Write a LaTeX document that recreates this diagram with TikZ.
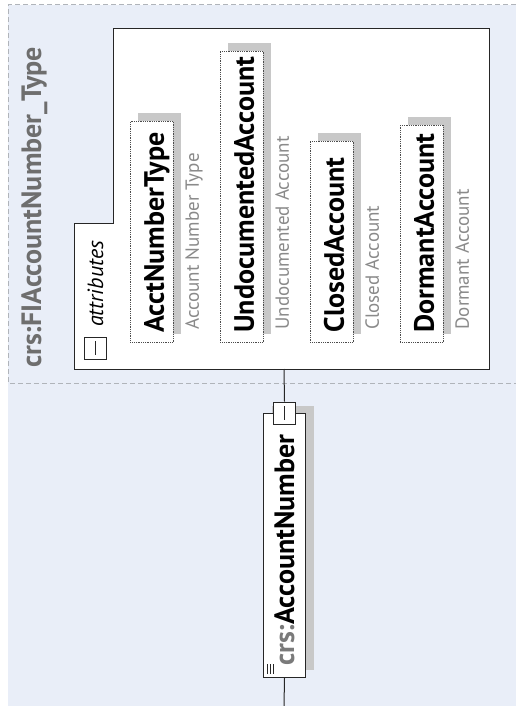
\documentclass[tikz,border=0pt]{standalone}
\usepackage{fontspec}
\setmainfont{PT Sans}
\usetikzlibrary{shadows}
\definecolor{bgblue}{HTML}{E9EEF8}
\definecolor{dashgray}{HTML}{B0B4BA}
\definecolor{shade}{HTML}{C8C8C8}
\definecolor{titlegray}{HTML}{6E6E6E}
\definecolor{descgray}{HTML}{8A8A8A}
\definecolor{crsgray}{HTML}{7A7A7A}
\tikzset{
  typeframe/.style={draw=dashgray, line width=1pt, dash pattern=on 5pt off 3pt},
  groupbox/.style={draw=black!85, line width=1pt, fill=white},
  attrbox/.style={draw=black!70, densely dotted, line width=0.8pt, fill=white,
    anchor=north west, minimum width=43pt, inner sep=0pt,
    drop shadow={shadow xshift=8pt, shadow yshift=8pt, fill=shade, opacity=1}},
  elembox/.style={draw=black!85, line width=1pt, fill=white,
    anchor=north west, minimum width=42pt, inner sep=0pt,
    drop shadow={shadow xshift=8pt, shadow yshift=8pt, fill=shade, opacity=1}},
  minusbox/.style={draw=black!85, line width=1pt, fill=white, minimum size=22pt, inner sep=0pt,
    path picture={\draw[line width=1pt] ([yshift=7pt]path picture bounding box.center)
      -- ([yshift=-7pt]path picture bounding box.center);}},
  conn/.style={draw=black!85, line width=1pt},
  vtext/.style={rotate=90, anchor=base west, inner sep=0pt},
  typename/.style={vtext, text=titlegray, font=\fontsize{28}{28}\selectfont\bfseries},
  attrname/.style={vtext, font=\fontsize{28}{28}\selectfont\bfseries},
  attrdesc/.style={vtext, text=descgray, font=\fontsize{19}{19}\selectfont},
  grouplabel/.style={vtext, font=\fontsize{22}{22}\selectfont\itshape},
  elemname/.style={vtext, font=\fontsize{28}{28}\selectfont\bfseries}
}
\begin{document}
\begin{tikzpicture}[x=1pt,y=-1pt]
  \def\dx{90}
  \useasboundingbox (0,0) rectangle (516,706);
  \fill[bgblue] (8,5) rectangle (516,706);
  \draw[typeframe] (516,5) -- (8,5) -- (8,383) -- (516,383);
  \node[typename] (T) at (41,368) {crs:FIAccountNumber\_Type};

  % attribute group
  \draw[groupbox] (113,29) -- (489,29) -- (489,369) -- (74,369) -- (74,223) -- (113,223) -- cycle;
  \node[minusbox] (Am) at (95,348) {};
  \node[grouplabel] (Al) at (103,327) {attributes};

  \node[attrbox, minimum height=221pt] (A1) at (130,121) {};
  \node[attrbox, minimum height=291pt] (A2) at (130+\dx,51) {};
  \node[attrbox, minimum height=201pt] (A3) at (130+2*\dx,141) {};
  \node[attrbox, minimum height=217pt] (A4) at (130+3*\dx,125) {};
  \node[attrname] (A1n) at ([shift={(-10pt,10pt)}]A1.south east) {AcctNumberType};
  \node[attrdesc] (A1d) at ([shift={(25pt,13pt)}]A1.south east) {Account Number Type};
  \node[attrname] (A2n) at ([shift={(-10pt,10pt)}]A2.south east) {UndocumentedAccount};
  \node[attrdesc] (A2d) at ([shift={(25pt,13pt)}]A2.south east) {Undocumented Account};
  \node[attrname] (A3n) at ([shift={(-10pt,10pt)}]A3.south east) {ClosedAccount};
  \node[attrdesc] (A3d) at ([shift={(25pt,13pt)}]A3.south east) {Closed Account};
  \node[attrname] (A4n) at ([shift={(-10pt,10pt)}]A4.south east) {DormantAccount};
  \node[attrdesc] (A4d) at ([shift={(25pt,13pt)}]A4.south east) {Dormant Account};

  % element
  \node[elembox, minimum height=264pt] (E) at (263,413) {};
  \node[elemname] (En) at ([shift={(-12pt,12pt)}]E.south east) {\textcolor{crsgray}{crs:}AccountNumber};
  \node[minusbox] (Em) at (E.north) {};
  \foreach \i in {4,7,10}
    \draw[black!85, line width=0.8pt] ([shift={(\i pt,4pt)}]E.south west) -- ++(0pt,10pt);

  \coordinate (Afoot) at (284,369);
  \coordinate (Eend) at (284,706);
  \draw[conn] (Afoot) -- (Em.north);
  \draw[conn] (E.south) -- (Eend);
\end{tikzpicture}
\end{document}
